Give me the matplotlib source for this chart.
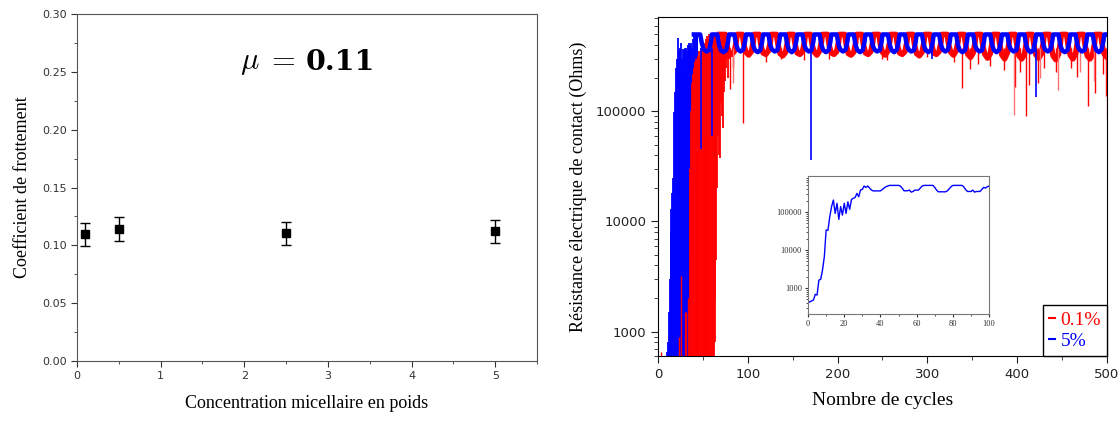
import matplotlib.pyplot as plt
import numpy as np
from matplotlib.ticker import MultipleLocator, FixedLocator, NullFormatter

plt.rcParams['mathtext.fontset'] = 'cm'

# ---- left panel: friction coefficient ----
conc = [0.1, 0.5, 2.5, 5.0]
mu_vals = [0.1095, 0.1142, 0.1103, 0.1120]
mu_err = [0.0098, 0.0102, 0.0100, 0.0098]

# ---- right panel: contact resistance (values in kOhm) ----
# dense start-up region, one vertical stroke per cycle (low / high envelope)
blue_tr_cyc = [10, 11, 12, 13, 14, 15, 16, 17, 18, 19, 20, 21, 22, 23, 24, 25, 26, 27,
               28, 29, 30, 31, 32, 33, 34, 35, 36, 37, 38, 39, 40, 41, 42, 43, 44]
blue_tr_lo = [0.55, 0.5, 0.5, 0.5, 0.5, 0.5, 0.5, 0.5, 0.5, 0.5, 0.5, 0.5, 0.5, 0.5, 0.5,
              0.5, 0.5, 0.5, 0.5, 0.5, 0.5, 0.5, 0.5, 0.5, 0.5, 0.5, 0.5, 2, 5, 20, 60,
              100, 200, 250, 300]
blue_tr_hi = [0.65, 0.8, 1.5, 3, 8, 13, 18, 25, 98, 150, 250, 300, 460, 350, 200, 380,
              420, 300, 370, 360, 380, 380, 350, 400, 380, 420, 400, 420, 380, 450, 500,
              500, 500, 480, 500]

red_tr_cyc = [36, 37, 38, 39, 40, 41, 42, 43, 44, 45, 46, 47, 48, 49, 50, 51, 52, 53,
              54, 55, 56, 57, 58, 59, 60, 61, 62, 63, 64, 65, 66, 67, 68, 69, 70, 71,
              72, 73, 74, 75, 76, 77, 78, 79]
red_tr_lo = [0.5, 0.5, 0.5, 0.5, 0.5, 0.5, 0.5, 0.5, 0.5, 0.5, 0.5, 0.5, 0.5, 0.5, 0.5,
             0.5, 0.5, 0.5, 0.5, 0.5, 0.5, 0.5, 0.5, 0.5, 0.5, 0.5, 0.5, 0.8, 2, 4.5,
             20, 60, 40, 38, 120, 90, 70, 150, 250, 190, 250, 300, 200, 300]
red_tr_hi = [30, 100, 180, 220, 250, 280, 300, 250, 300, 320, 350, 300, 380, 400, 380,
             420, 400, 450, 420, 480, 450, 500, 480, 500, 460, 500, 480, 500, 480, 500,
             450, 500, 480, 500, 450, 480, 500, 450, 480, 500, 450, 480, 500, 450]

# early isolated red strokes
red_early_cyc = [3, 23, 25.5, 30, 31.5, 33]
red_early_hi = [0.65, 0.9, 3.2, 1.5, 1.5, 2.0]

# steady regime (kOhm)
blue_cyc = [40, 47, 49, 51, 54, 57, 59, 60, 66, 68, 70, 73, 76, 78,
            79, 85, 87, 89, 92, 95, 97, 98, 104, 106, 108, 111, 114, 116,
            117, 123, 125, 127, 130, 133, 135, 136, 142, 144, 146, 149, 152, 154,
            155, 161, 163, 165, 168, 171, 173, 174, 180, 182, 184, 187, 190, 192,
            193, 199, 201, 203, 206, 209, 211, 212, 218, 220, 222, 225, 228, 230,
            231, 237, 239, 241, 244, 247, 249, 250, 256, 258, 260, 263, 266, 268,
            269, 275, 277, 279, 282, 285, 287, 288, 294, 296, 298, 301, 304, 306,
            307, 313, 315, 317, 320, 323, 325, 326, 332, 334, 336, 339, 342, 344,
            345, 351, 353, 355, 358, 361, 363, 364, 370, 372, 374, 377, 380, 382,
            383, 389, 391, 393, 396, 399, 401, 402, 408, 410, 412, 415, 418, 420,
            421, 427, 429, 431, 434, 437, 439, 440, 446, 448, 450, 453, 456, 458,
            459, 465, 467, 469, 472, 475, 477, 478, 484, 486, 488, 491, 494, 496,
            497, 500]
blue_res = [500, 500, 410, 365, 350, 360, 430, 500, 500, 400, 360, 345, 360, 430,
            500, 500, 405, 365, 350, 365, 435, 500, 500, 400, 360, 345, 360, 430,
            500, 500, 400, 365, 350, 360, 430, 500, 500, 405, 360, 345, 365, 435,
            500, 500, 400, 365, 350, 360, 430, 500, 500, 400, 360, 345, 360, 430,
            500, 500, 405, 365, 350, 365, 435, 500, 500, 400, 360, 345, 360, 430,
            500, 500, 400, 365, 350, 360, 430, 500, 500, 405, 360, 345, 365, 435,
            500, 500, 400, 365, 350, 360, 430, 500, 500, 400, 360, 345, 360, 430,
            500, 500, 405, 365, 350, 365, 435, 500, 500, 400, 360, 345, 360, 430,
            500, 500, 400, 365, 350, 360, 430, 500, 500, 405, 360, 345, 365, 435,
            500, 500, 400, 365, 350, 360, 430, 500, 500, 400, 360, 345, 360, 430,
            500, 500, 405, 365, 350, 365, 435, 500, 500, 400, 360, 345, 360, 430,
            500, 500, 400, 365, 350, 360, 430, 500, 500, 405, 360, 345, 365, 435,
            500, 500]

red_cyc = [69, 75, 77, 79, 82, 85, 87, 88, 94, 96, 98, 101, 104, 106,
           107, 113, 115, 117, 120, 123, 125, 126, 132, 134, 136, 139, 142, 144,
           145, 151, 153, 155, 158, 161, 163, 164, 170, 172, 174, 177, 180, 182,
           183, 189, 191, 193, 196, 199, 201, 202, 208, 210, 212, 215, 218, 220,
           221, 227, 229, 231, 234, 237, 239, 240, 246, 248, 250, 253, 256, 258,
           259, 265, 267, 269, 272, 275, 277, 278, 284, 286, 288, 291, 294, 296,
           297, 303, 305, 307, 310, 313, 315, 316, 322, 324, 326, 329, 332, 334,
           335, 341, 343, 345, 348, 351, 353, 354, 360, 362, 364, 367, 370, 372,
           373, 379, 381, 383, 386, 389, 391, 392, 398, 400, 402, 405, 408, 410,
           411, 417, 419, 421, 424, 427, 429, 430, 436, 438, 440, 443, 446, 448,
           449, 455, 457, 459, 462, 465, 467, 468, 474, 476, 478, 481, 484, 486,
           487, 493, 495, 497, 500]
red_res = [500, 500, 390, 340, 330, 350, 420, 500, 500, 390, 345, 325, 350, 420,
           500, 500, 385, 340, 330, 355, 420, 500, 500, 390, 335, 320, 345, 415,
           500, 500, 395, 340, 330, 350, 420, 500, 500, 390, 345, 325, 355, 425,
           500, 500, 385, 340, 330, 350, 420, 500, 500, 390, 335, 325, 345, 415,
           500, 500, 395, 340, 330, 350, 420, 500, 500, 390, 345, 325, 355, 425,
           500, 500, 385, 340, 330, 350, 420, 500, 500, 390, 335, 320, 345, 415,
           500, 500, 395, 340, 330, 350, 420, 500, 500, 390, 345, 325, 355, 425,
           500, 500, 385, 330, 310, 340, 420, 500, 500, 380, 330, 305, 335, 415,
           500, 500, 385, 325, 300, 340, 420, 500, 500, 380, 320, 300, 330, 410,
           500, 500, 385, 325, 305, 335, 420, 500, 500, 380, 320, 295, 330, 415,
           500, 500, 385, 325, 300, 335, 420, 500, 500, 380, 320, 300, 330, 410,
           500, 500, 385, 330, 310]

# downward spikes (cycle, minimum in kOhm)
red_spk_cyc = [80, 84, 95, 120, 137, 163, 190, 250, 255, 300, 330, 338.6, 347, 356,
               370, 385, 397, 403, 410, 413, 423, 430, 443, 460, 467, 479, 487, 495, 499]
red_spk_min = [160, 250, 78, 280, 300, 290, 300, 300, 290, 310, 280, 164, 244, 270,
               260, 240, 166, 228, 90, 172, 181, 250, 228, 250, 205, 113, 147, 220, 137]
red_lspk_cyc = [83, 396, 425, 445, 470, 485, 499.5]
red_lspk_min = [180, 93, 200, 155, 230, 190, 88]
blue_spk_cyc = [48, 60, 170, 305, 421]
blue_spk_min = [46, 60, 36, 300, 135]

# inset: first 100 cycles
ins_cyc = [0, 2, 3, 4, 5, 6, 7, 8, 9, 10, 11, 12, 13, 14, 15, 16, 17, 18, 19, 20,
           21, 22, 23, 24, 25, 26, 27, 28, 29, 30, 31, 32, 33, 34, 35, 36, 40, 41,
           43, 45, 50, 51, 52, 53, 55, 56, 57, 58, 59, 61, 62, 63, 64, 69, 70, 71,
           72, 76, 77, 78, 79, 80, 85, 86, 87, 88, 90, 91, 92, 93, 95, 96, 97, 98,
           99, 100]
ins_res = [0.41, 0.455, 0.483, 0.68, 0.655, 1.62, 1.69, 2.98, 6.67, 33.6, 33, 75, 139,
           207, 92, 170, 64, 139, 83, 170, 92, 186, 118, 215, 230, 242, 310, 253, 380,
           395, 484, 445, 484, 428, 380, 360, 360, 394, 464, 503, 503, 483, 427, 363,
           363, 378, 334, 348, 378, 378, 427, 483, 503, 503, 445, 378, 341, 341, 363,
           410, 464, 503, 503, 464, 394, 348, 348, 378, 334, 348, 348, 394, 445, 427,
           464, 483]

fig = plt.figure(figsize=(11.19, 4.21), dpi=100)

# ---------------- left panel ----------------
ax1 = fig.add_axes([0.0688, 0.1425, 0.4111, 0.8242])
ax1.errorbar(conc, mu_vals, yerr=mu_err, fmt='s', color='black', ms=5.5,
             ecolor='black', elinewidth=1.0, capsize=3.5, capthick=1.0)
ax1.set_xlim(0, 5.5)
ax1.set_ylim(0, 0.30)
ax1.xaxis.set_major_locator(MultipleLocator(1))
ax1.xaxis.set_minor_locator(MultipleLocator(0.5))
ax1.yaxis.set_major_locator(MultipleLocator(0.05))
ax1.yaxis.set_minor_locator(MultipleLocator(0.025))
ax1.yaxis.set_major_formatter(plt.FuncFormatter(lambda v, p: f'{v:.2f}'))
ax1.tick_params(which='both', direction='out', top=False, right=False,
                labelsize=8, colors='#333333')
ax1.tick_params(which='major', length=4)
ax1.tick_params(which='minor', length=2.5)
for s in ax1.spines.values():
    s.set_color('#555555')
ax1.set_xlabel('Concentration micellaire en poids', family='Liberation Serif',
               fontsize=13, labelpad=10)
ax1.set_ylabel('Coefficient de frottement', family='Liberation Serif',
               fontsize=13, labelpad=8)
ax1.text(2.61, 0.258, r'$\mu\;=$', fontsize=22, ha='right', va='center')
ax1.text(2.73, 0.2585, '0.11', fontsize=20.5, fontweight='bold', family='DejaVu Serif',
         ha='left', va='center')

# ---------------- right panel ----------------
ax2 = fig.add_axes([0.588, 0.1544, 0.4013, 0.8052])
k = 1e3
ax2.vlines(blue_tr_cyc, np.array(blue_tr_lo) * k, np.array(blue_tr_hi) * k,
           color='#0000ff', lw=1.3, zorder=2)
ax2.vlines(red_tr_cyc, np.array(red_tr_lo) * k, np.array(red_tr_hi) * k,
           color='#ff0000', lw=1.3, zorder=3)
ax2.vlines(red_early_cyc, 500, np.array(red_early_hi) * k, color='#ff0000', lw=1.0, zorder=3)
ax2.plot(red_cyc, np.array(red_res) * k, color='#ff0000', lw=4.0, zorder=3)
ax2.vlines(red_spk_cyc, np.array(red_spk_min) * k, 380 * k, color='#ff0000', lw=1.0, zorder=3)
ax2.vlines(red_lspk_cyc, np.array(red_lspk_min) * k, 380 * k, color='#ff7070', lw=1.0, zorder=3)
ax2.plot(blue_cyc, np.array(blue_res) * k, color='#0000ff', lw=3.2, zorder=4)
ax2.vlines(blue_spk_cyc, np.array(blue_spk_min) * k, 380 * k, color='#0000ff', lw=1.2, zorder=4)
ax2.plot([], [], color='#ff0000', label='0.1%')
ax2.plot([], [], color='#0000ff', label='5%')

ax2.set_yscale('log')
ax2.set_xlim(0, 500)
ax2.set_ylim(600, 7.2e5)
ax2.xaxis.set_major_locator(MultipleLocator(100))
ax2.xaxis.set_minor_locator(MultipleLocator(50))
ax2.yaxis.set_major_locator(FixedLocator([1000, 10000, 100000]))
ax2.yaxis.set_major_formatter(plt.FuncFormatter(lambda v, p: f'{v:.0f}'))
ax2.yaxis.set_minor_formatter(NullFormatter())
ax2.tick_params(which='both', direction='out', top=False, right=False,
                labelsize=9.5, colors='#222222')
ax2.tick_params(which='major', length=5)
ax2.tick_params(which='minor', length=3)
ax2.set_xlabel('Nombre de cycles', family='Liberation Serif', fontsize=14, labelpad=8)
ax2.set_ylabel('Résistance électrique de contact (Ohms)', family='Liberation Serif',
               fontsize=13, labelpad=6)
leg = ax2.legend(loc='lower right', handlelength=0.3, handletextpad=0.3,
                 labelcolor='linecolor', fancybox=False, framealpha=1,
                 edgecolor='black', borderaxespad=0, borderpad=0.3, labelspacing=0.2,
                 prop={'family': 'Liberation Serif', 'size': 14})
leg.get_frame().set_linewidth(1.0)

# inset
ax3 = fig.add_axes([0.7221, 0.2542, 0.1618, 0.3278])
ax3.plot(ins_cyc, np.array(ins_res) * k, color='#0000ff', lw=1.0)
ax3.set_yscale('log')
ax3.set_xlim(0, 100)
ax3.set_ylim(207, 8.9e5)
ax3.xaxis.set_major_locator(MultipleLocator(20))
ax3.xaxis.set_minor_locator(MultipleLocator(10))
ax3.yaxis.set_major_locator(FixedLocator([1000, 10000, 100000]))
ax3.yaxis.set_major_formatter(plt.FuncFormatter(lambda v, p: f'{v:.0f}'))
ax3.yaxis.set_minor_formatter(NullFormatter())
ax3.tick_params(which='both', direction='out', top=False, right=False,
                labelsize=6, colors='#333333', pad=2)
ax3.tick_params(which='major', length=2.5)
ax3.tick_params(which='minor', length=1.5)
for lab in ax3.get_xticklabels() + ax3.get_yticklabels():
    lab.set_family('Liberation Serif')
for s in ax3.spines.values():
    s.set_color('#777777')

fig.savefig('out.png', dpi=100)
